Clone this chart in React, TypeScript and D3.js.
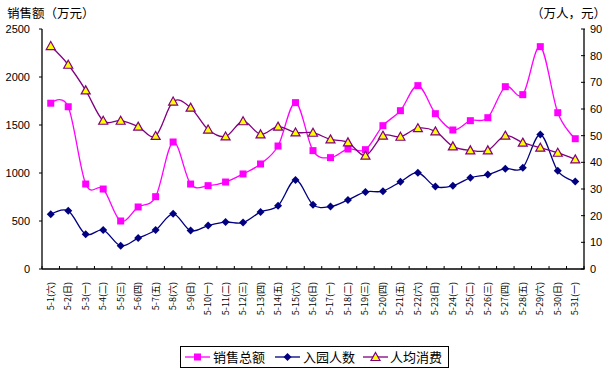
import React from "react";
import * as d3 from "d3";

const dates = ["5-1","5-2","5-3","5-4","5-5","5-6","5-7","5-8","5-9","5-10","5-11","5-12","5-13","5-14","5-15","5-16","5-17","5-18","5-19","5-20","5-21","5-22","5-23","5-24","5-25","5-26","5-27","5-28","5-29","5-30","5-31"];
const weekdays = ["六","日","一","二","三","四","五","六","日","一","二","三","四","五","六","日","一","二","三","四","五","六","日","一","二","三","四","五","六","日","一"];
const sales = [1727,1690,885,833,500,646,753,1323,885,868,906,990,1094,1281,1733,1233,1160,1250,1243,1493,1649,1910,1618,1448,1545,1576,1899,1816,2316,1628,1357];
const visitors = [20.5,21.8,13.0,14.6,8.7,11.6,14.6,20.7,14.4,16.3,17.6,17.4,21.4,23.7,33.4,24.1,23.4,25.9,28.9,29.2,32.7,36.1,30.9,31.2,34.2,35.4,37.6,38.0,50.4,36.8,32.8];
const perCapita = [83.6,76.6,67.0,55.6,55.6,53.4,49.9,62.8,60.5,52.3,49.7,55.4,50.5,53.4,51.2,51.1,48.6,47.5,42.5,50.0,49.6,52.8,51.6,46.0,44.5,44.5,50.0,47.4,45.5,43.6,41.1];
const leftTicks = [0,500,1000,1500,2000,2500];
const rightTicks = [0,10,20,30,40,50,60,70,80,90];
const seriesNames = ["销售总额","入园人数","人均消费"];

const W = 614, H = 377;
const L = 42, R = 584, T = 29, B = 269;

export default function App() {
  const x = d3.scaleBand<number>().domain(d3.range(dates.length)).range([L, R]);
  const yL = d3.scaleLinear().domain([0, 2500]).range([B, T]);
  const yR = d3.scaleLinear().domain([0, 90]).range([B, T]);
  const cx = (i: number) => (x(i) as number) + x.bandwidth() / 2;
  const curve = d3.curveCatmullRom.alpha(0);
  const lineSales = d3.line<number>().x((_, i) => cx(i)).y(d => yL(d)).curve(curve);
  const lineRight = d3.line<number>().x((_, i) => cx(i)).y(d => yR(d)).curve(curve);
  const font = "'Liberation Sans', Arial, 'Noto Sans CJK SC', sans-serif";
  const cjk = "'Noto Sans CJK SC', sans-serif";

  const sq = (px: number, py: number, k: string) => (
    <rect key={k} x={px - 3.5} y={py - 3.5} width={7} height={7} fill="#FF00FF" />
  );
  const dia = (px: number, py: number, k: string) => (
    <path key={k} d={`M${px},${py - 4}L${px + 4},${py}L${px},${py + 4}L${px - 4},${py}Z`} fill="#000080" />
  );
  const tri = (px: number, py: number, k: string) => (
    <path key={k} d={`M${px},${py - 4.5}L${px + 4.5},${py + 3.5}L${px - 4.5},${py + 3.5}Z`} fill="#FFFF00" stroke="#800080" strokeWidth={1.2} />
  );

  return (
    <svg width={W} height={H} style={{ position: "absolute", left: 0, top: 0, background: "#fff" }}>
      <rect x={0} y={0} width={W} height={H} fill="#fff" />
      {/* titles */}
      <text x={7} y={18} fontSize={12.5} fontFamily={cjk} fill="#000">销售额（万元）</text>
      <text x={606} y={18} fontSize={12.5} fontFamily={cjk} fill="#000" textAnchor="end">（万人，元）</text>

      {/* axes */}
      <line x1={L} x2={L} y1={T} y2={B} stroke="#000" strokeWidth={1.3} />
      <line x1={R} x2={R} y1={T} y2={B} stroke="#000" strokeWidth={1.3} />
      <line x1={L} x2={R} y1={B} y2={B} stroke="#000" strokeWidth={1.3} />
      {leftTicks.map(t => (
        <g key={"l" + t}>
          <line x1={L - 3} x2={L} y1={yL(t)} y2={yL(t)} stroke="#000" />
          <text x={30} y={yL(t) + 4} fontSize={11} fontFamily={font} textAnchor="end">{t}</text>
        </g>
      ))}
      {rightTicks.map(t => (
        <g key={"r" + t}>
          <line x1={R - 3} x2={R + 1} y1={yR(t)} y2={yR(t)} stroke="#000" />
          <text x={590} y={yR(t) + 4} fontSize={11} fontFamily={font}>{t}</text>
        </g>
      ))}
      {d3.range(dates.length + 1).map(i => {
        const px = L + i * x.bandwidth();
        return <line key={"xt" + i} x1={px} x2={px} y1={B - 3} y2={B} stroke="#000" />;
      })}
      {dates.map((d, i) => (
        <text key={"xl" + i} transform={`translate(${cx(i) + 3},282) rotate(-90)`} fontSize={9} fontFamily={cjk} textAnchor="end">
          {d}({weekdays[i]})
        </text>
      ))}

      {/* series */}
      <path d={lineSales(sales) || ""} fill="none" stroke="#FF00FF" strokeWidth={1.3} />
      {sales.map((v, i) => sq(cx(i), yL(v), "s" + i))}
      <path d={lineRight(visitors) || ""} fill="none" stroke="#000080" strokeWidth={1.3} />
      {visitors.map((v, i) => dia(cx(i), yR(v), "v" + i))}
      <path d={lineRight(perCapita) || ""} fill="none" stroke="#800080" strokeWidth={1.3} />
      {perCapita.map((v, i) => tri(cx(i), yR(v), "p" + i))}

      {/* legend */}
      <rect x={180.5} y={346.5} width={268} height={21} fill="#fff" stroke="#000" strokeWidth={1} />
      <line x1={185} x2={210} y1={357} y2={357} stroke="#FF00FF" strokeWidth={1.3} />
      {sq(197.5, 357, "ls")}
      <text x={213} y={362} fontSize={13} fontFamily={cjk}>{seriesNames[0]}</text>
      <line x1={275} x2={300} y1={357} y2={357} stroke="#000080" strokeWidth={1.3} />
      {dia(287.5, 357, "lv")}
      <text x={303} y={362} fontSize={13} fontFamily={cjk}>{seriesNames[1]}</text>
      <line x1={363} x2={388} y1={357} y2={357} stroke="#800080" strokeWidth={1.3} />
      {tri(375.5, 357, "lp")}
      <text x={390} y={362} fontSize={13} fontFamily={cjk}>{seriesNames[2]}</text>
    </svg>
  );
}
